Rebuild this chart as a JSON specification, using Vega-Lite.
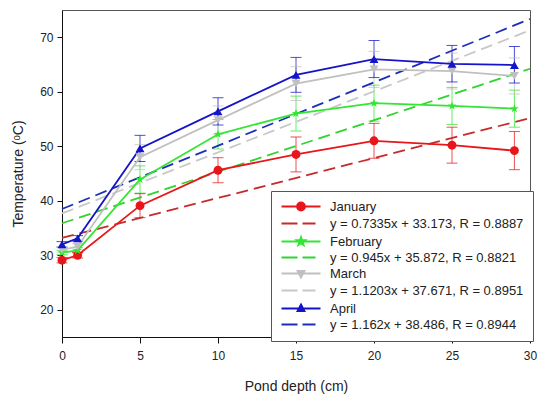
{
  "$schema": "https://vega.github.io/schema/vega-lite/v6.json",
  "width": 468,
  "height": 327,
  "autosize": {"type": "none"},
  "padding": {"left": 62, "top": 10, "right": 9, "bottom": 57},
  "background": "white",
  "config": {
    "font": "Liberation Sans",
    "view": {"stroke": "#555555", "strokeWidth": 1},
    "axis": {
      "grid": false,
      "domainColor": "#111111",
      "domainWidth": 1,
      "tickColor": "#111111",
      "labelColor": "#222222",
      "titleColor": "#222222",
      "labelFontSize": 12,
      "titleFontSize": 14,
      "titleFontWeight": "normal"
    }
  },
  "datasets": {
    "pts": [
      {"depth": 0, "series": "January", "temp": 29.1, "lo": 28.6, "hi": 29.6},
      {"depth": 1, "series": "January", "temp": 30.0, "lo": 29.5, "hi": 30.5},
      {"depth": 5, "series": "January", "temp": 39.1, "lo": 36.9, "hi": 41.3},
      {"depth": 10, "series": "January", "temp": 45.6, "lo": 43.3, "hi": 47.9},
      {"depth": 15, "series": "January", "temp": 48.5, "lo": 45.3, "hi": 51.7},
      {"depth": 20, "series": "January", "temp": 51.0, "lo": 47.8, "hi": 54.2},
      {"depth": 25, "series": "January", "temp": 50.2, "lo": 46.9, "hi": 53.5},
      {"depth": 29, "series": "January", "temp": 49.2, "lo": 45.7, "hi": 52.7},
      {"depth": 0, "series": "February", "temp": 30.5, "lo": 30.1, "hi": 30.9},
      {"depth": 1, "series": "February", "temp": 30.9, "lo": 30.4, "hi": 31.4},
      {"depth": 5, "series": "February", "temp": 43.9, "lo": 41.4, "hi": 46.4},
      {"depth": 10, "series": "February", "temp": 52.2, "lo": 49.5, "hi": 54.9},
      {"depth": 15, "series": "February", "temp": 56.0, "lo": 52.8, "hi": 59.2},
      {"depth": 20, "series": "February", "temp": 57.9, "lo": 54.6, "hi": 61.2},
      {"depth": 25, "series": "February", "temp": 57.4, "lo": 54.0, "hi": 60.8},
      {"depth": 29, "series": "February", "temp": 56.9, "lo": 53.5, "hi": 60.3},
      {"depth": 0, "series": "March", "temp": 31.0, "lo": 30.5, "hi": 31.5},
      {"depth": 1, "series": "March", "temp": 31.6, "lo": 31.1, "hi": 32.1},
      {"depth": 5, "series": "March", "temp": 48.0, "lo": 45.7, "hi": 50.3},
      {"depth": 10, "series": "March", "temp": 54.8, "lo": 52.2, "hi": 57.4},
      {"depth": 15, "series": "March", "temp": 61.5, "lo": 58.4, "hi": 64.6},
      {"depth": 20, "series": "March", "temp": 64.1, "lo": 60.8, "hi": 67.4},
      {"depth": 25, "series": "March", "temp": 63.8, "lo": 60.5, "hi": 67.1},
      {"depth": 29, "series": "March", "temp": 62.9, "lo": 59.6, "hi": 66.2},
      {"depth": 0, "series": "April", "temp": 32.0, "lo": 31.5, "hi": 32.5},
      {"depth": 1, "series": "April", "temp": 33.1, "lo": 32.6, "hi": 33.6},
      {"depth": 5, "series": "April", "temp": 49.6, "lo": 47.2, "hi": 52.0},
      {"depth": 10, "series": "April", "temp": 56.4, "lo": 53.9, "hi": 58.9},
      {"depth": 15, "series": "April", "temp": 63.1, "lo": 59.9, "hi": 66.3},
      {"depth": 20, "series": "April", "temp": 66.0, "lo": 62.6, "hi": 69.4},
      {"depth": 25, "series": "April", "temp": 65.1, "lo": 61.8, "hi": 68.5},
      {"depth": 29, "series": "April", "temp": 64.9, "lo": 61.6, "hi": 68.3}
    ],
    "reg": [
      {"depth": 0, "series": "y = 0.7335x + 33.173, R = 0.8887", "temp": 33.173},
      {"depth": 30, "series": "y = 0.7335x + 33.173, R = 0.8887", "temp": 55.178},
      {"depth": 0, "series": "y = 0.945x + 35.872, R = 0.8821", "temp": 35.872},
      {"depth": 30, "series": "y = 0.945x + 35.872, R = 0.8821", "temp": 64.222},
      {"depth": 0, "series": "y = 1.1203x + 37.671, R = 0.8951", "temp": 37.671},
      {"depth": 30, "series": "y = 1.1203x + 37.671, R = 0.8951", "temp": 71.28},
      {"depth": 0, "series": "y = 1.162x + 38.486, R = 0.8944", "temp": 38.486},
      {"depth": 30, "series": "y = 1.162x + 38.486, R = 0.8944", "temp": 73.346}
    ]
  },
  "encoding": {
    "x": {
      "field": "depth", "type": "quantitative",
      "scale": {"domain": [0, 30], "nice": false, "zero": false},
      "axis": {"title": "Pond depth (cm)", "values": [0, 5, 10, 15, 20, 25, 30], "tickSize": 6, "labelPadding": 7, "titlePadding": 18, "labelFlush": false}
    },
    "y": {
      "field": "temp", "type": "quantitative",
      "scale": {"domain": [15, 75], "nice": false, "zero": false},
      "axis": {"title": "Temperature (ᵒC)", "values": [20, 30, 40, 50, 60, 70], "tickSize": 5, "labelPadding": 4, "titlePadding": 14}
    },
    "color": {
      "field": "series", "type": "nominal",
      "scale": {
        "domain": ["January", "y = 0.7335x + 33.173, R = 0.8887", "February", "y = 0.945x + 35.872, R = 0.8821", "March", "y = 1.1203x + 37.671, R = 0.8951", "April", "y = 1.162x + 38.486, R = 0.8944"],
        "range": ["#e8161a", "#c62b2b", "#33e633", "#2fd42f", "#c0c0c0", "#c8c8c8", "#1414c8", "#1e2eb8"]
      },
      "legend": {
        "title": null,
        "orient": "none",
        "legendX": 209,
        "legendY": 181,
        "direction": "vertical",
        "padding": 9,
        "strokeColor": "#555555",
        "fillColor": "white",
        "labelFontSize": 13,
        "labelColor": "#222222",
        "labelOffset": 37,
        "labelLimit": 400,
        "rowPadding": 2,
        "symbolSize": 100,
        "symbolStrokeWidth": 1.8,
        "encode": {
          "symbols": {
            "update": {
              "size": {"value": 100},
              "strokeWidth": {"value": 1.8},
              "opacity": {"value": 1},
              "fill": {"scale": "color", "field": "value"},
              "stroke": {"scale": "color", "field": "value"},
              "shape": {"signal": "indexof(datum.value, 'y =') == 0 ? 'M-1,0H2.2M3.2,0H5.8' : datum.value == 'January' ? 'M-1,0H6.8M3.7,0A0.8,0.8 0 1,1 2.1,0A0.8,0.8 0 1,1 3.7,0Z' : datum.value == 'February' ? 'M-1,0H6.8M2.9,-0.9L3.112,-0.292L3.756,-0.278L3.242,0.112L3.429,0.728L2.9,0.36L2.371,0.728L2.558,0.112L2.044,-0.278L2.688,-0.292Z' : datum.value == 'March' ? 'M-1,0H6.8M2.9,0.8L3.6,-0.5L2.2,-0.5Z' : 'M-1,0H6.8M2.9,-0.8L3.6,0.5L2.2,0.5Z'"}
            }
          }
        }
      }
    }
  },
  "layer": [
    {
      "data": {"name": "pts"},
      "mark": {"type": "rule", "strokeWidth": 1, "opacity": 0.75},
      "encoding": {"y": {"field": "lo", "type": "quantitative"}, "y2": {"field": "hi"}}
    },
    {
      "data": {"name": "pts"},
      "mark": {"type": "tick", "orient": "horizontal", "size": 11, "thickness": 1, "opacity": 0.75},
      "encoding": {"y": {"field": "lo", "type": "quantitative"}}
    },
    {
      "data": {"name": "pts"},
      "mark": {"type": "tick", "orient": "horizontal", "size": 11, "thickness": 1, "opacity": 0.75},
      "encoding": {"y": {"field": "hi", "type": "quantitative"}}
    },
    {
      "data": {"name": "reg"},
      "mark": {"type": "line", "strokeWidth": 1.8, "strokeDash": [12, 6]},
      "encoding": {"detail": {"field": "series"}}
    },
    {
      "data": {"name": "pts"},
      "mark": {"type": "line", "strokeWidth": 1.8},
      "encoding": {"detail": {"field": "series"}}
    },
    {
      "data": {"name": "pts"},
      "mark": {"type": "point", "filled": true, "opacity": 1, "size": 80},
      "encoding": {
        "shape": {
          "field": "series", "type": "nominal", "legend": null,
          "scale": {
            "domain": ["January", "February", "March", "April"],
            "range": ["circle", "M0,-1L0.235,-0.324L0.951,-0.309L0.38,0.124L0.588,0.809L0,0.4L-0.588,0.809L-0.38,0.124L-0.951,-0.309L-0.235,-0.324Z", "triangle-down", "triangle-up"]
          }
        }
      }
    }
  ]
}
